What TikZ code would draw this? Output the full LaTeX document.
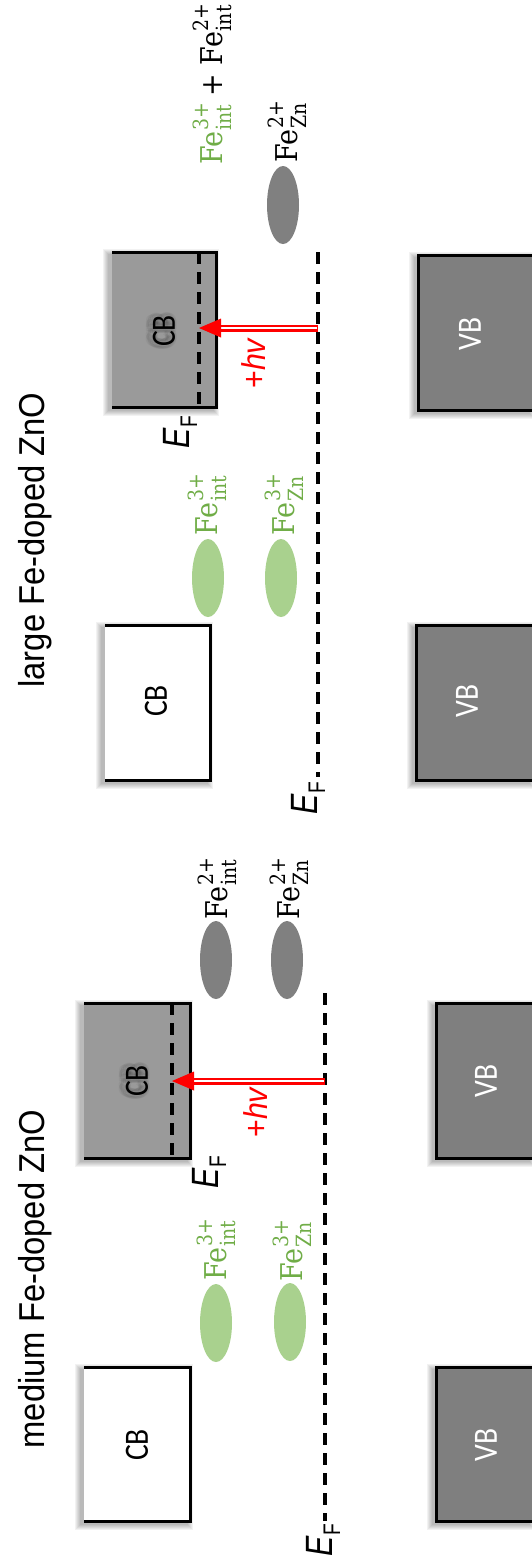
\documentclass[tikz,border=0pt]{standalone}
\usepackage{fontspec}
\setmainfont{Liberation Sans}
\newfontfamily\serf{DejaVu Serif}
\newfontfamily\calib{Carlito}
\usetikzlibrary{shapes.geometric,calc}
\definecolor{cbgrey}{HTML}{9A9A9A}
\definecolor{vbgrey}{HTML}{7F7F7F}
\definecolor{elgrey}{HTML}{808080}
\definecolor{lgreen}{HTML}{A9D18E}
\definecolor{tgreen}{HTML}{70AD47}
\newcommand\fel[2]{Fe\kern0.03em\makebox[0pt][l]{\raisebox{0.47em}{\fontsize{21}{21}\selectfont #1}}\raisebox{-0.3em}{\fontsize{21}{21}\selectfont #2}}
\newcommand\efl{\scalebox{0.8}[1]{\textit{E}\raisebox{-0.21em}{\fontsize{24}{24}\selectfont F}}}
\newcommand\boxshadow[4]{%
  \foreach \k in {0,...,5}{%
    \fill[black,opacity=0.05] (#1-9+\k,#2-3+\k) rectangle (#3+3-\k,#4+9-\k);}}
\newcommand\cbhalo[2]{%
  \foreach \dx/\dy in {-5/0,-4/-3,-4/3,-2/-4,-2/4,0/-4,0/4,2/-3,2/3,3/0,-6/-2,-6/2}{%
    \node[bandlbl,text=black,text opacity=0.045] at (#1+\dx-1,#2+\dy) {\scalebox{0.87}[1]{CB}};}}
\begin{document}
\begin{tikzpicture}[x=1pt,y=-1pt,
  title/.style={rotate=90,inner sep=0pt,font=\fontsize{36}{40}\selectfont},
  bandlbl/.style={rotate=90,inner sep=0pt,font=\calib\fontsize{34}{36}\selectfont},
  ionlbl/.style={rotate=90,inner sep=0pt,font=\serf\fontsize{30}{32}\selectfont},
  eflbl/.style={rotate=90,inner sep=0pt,font=\fontsize{38}{40}\selectfont},
  hvlbl/.style={rotate=90,inner sep=0pt,text=red,font=\fontsize{33}{36}\selectfont},
  greenion/.style={ellipse,fill=lgreen,minimum width=32pt,minimum height=78pt,inner sep=0pt},
  greyion/.style={ellipse,fill=elgrey,minimum width=32pt,minimum height=78pt,inner sep=0pt},
  bandline/.style={line width=3pt,line join=miter},
  efline/.style={line width=3.5pt,dash pattern=on 12pt off 8pt},
  shaft/.style={red,line width=7pt},
  shaftgap/.style={white,line width=2.6pt},
]
\useasboundingbox (0,0) rectangle (532,1556);

%%%%%%%%%%%%%%%% large Fe-doped ZnO (top) %%%%%%%%%%%%%%%%
\node[title] (tL) at (35,540) {\scalebox{0.91}[1]{large Fe-doped ZnO}};

% grey CB (filled up to E_F)
\boxshadow{112}{252}{216}{407}
\fill[cbgrey] (112,252) rectangle (216,407);
\draw[bandline] (112,252) -- (216,252) -- (216,407) -- (112,407);
\draw[efline] (199,252) -- (199,407);
\cbhalo{164}{331}
\node[bandlbl] (cbL2) at (164,331) {\scalebox{0.87}[1]{CB}};
\node[eflbl] (efL2) at (180,432) {\efl};

% white CB
\boxshadow{105}{625}{210}{780}
\fill[white] (105,625) rectangle (210,780);
\draw[bandline] (105,625) -- (210,625) -- (210,780) -- (105,780);
\node[bandlbl] (cbL1) at (156,701) {\scalebox{0.87}[1]{CB}};

% VB boxes
\boxshadow{418}{255}{532}{410}
\fill[vbgrey] (418,255) rectangle (532,410);
\draw[bandline] (532,255) -- (418,255) -- (418,410) -- (532,410);
\node[bandlbl,text=white] (vbL2) at (470,334) {\scalebox{0.87}[1]{VB}};
\boxshadow{416}{625}{532}{780}
\fill[vbgrey] (416,625) rectangle (532,780);
\draw[bandline] (532,625) -- (416,625) -- (416,780) -- (532,780);
\node[bandlbl,text=white] (vbL1) at (467,701) {\scalebox{0.87}[1]{VB}};

% Fermi level
\coordinate (efLtop) at (318,252);
\coordinate (efLbot) at (318,777);
\draw[efline] (efLtop) -- (efLbot);
\node[eflbl] (efL1) at (308,798) {\efl};

% ions
\node[greenion] (gLi) at (208,578) {};
\node[greenion] (gLz) at (281,578) {};
\node[ionlbl,text=tgreen] (lLi) at (207,506) {\scalebox{0.9}[1]{\fel{3+}{int}}};
\node[ionlbl,text=tgreen] (lLz) at (284,506) {\scalebox{0.9}[1]{\fel{3+}{Zn}}};
\node[greyion] (kLz) at (283,205) {};
\node[ionlbl] (mLz) at (287,133) {\scalebox{0.9}[1]{\fel{2+}{Zn}}};
\node[ionlbl] (mLi) at (212,85) {\scalebox{0.9}[1]{\textcolor{tgreen}{\fel{3+}{int}} + \fel{2+}{int}}};

% excitation arrow
\coordinate (aLs) at (318,328);
\coordinate (aLt) at (199,328);
\draw[shaft] (aLs) -- ($(aLt)+(20,0)$);
\draw[shaftgap] ($(aLs)+(-1,0)$) -- ($(aLt)+(22,0)$);
\fill[red] (aLt) -- ++(22,-9.5) -- ++(0,19) -- cycle;
\node[hvlbl] (hvL) at (254,363) {\scalebox{0.92}[1]{+\textit{hv}}};

%%%%%%%%%%%%%%%% medium Fe-doped ZnO (bottom) %%%%%%%%%%%%%%%%
\node[title] (tM) at (35,1279) {\scalebox{0.91}[1]{medium Fe-doped ZnO}};

% grey CB
\boxshadow{84}{1003}{190}{1158}
\fill[cbgrey] (84,1003) rectangle (190,1158);
\draw[bandline] (84,1003) -- (190,1003) -- (190,1158) -- (84,1158);
\draw[efline] (172,1003) -- (172,1158);
\cbhalo{137}{1081}
\node[bandlbl] (cbM2) at (137,1081) {\scalebox{0.87}[1]{CB}};
\node[eflbl] (efM2) at (209,1172) {\efl};

% white CB
\boxshadow{84}{1367}{190}{1521}
\fill[white] (84,1367) rectangle (190,1521);
\draw[bandline] (84,1367) -- (190,1367) -- (190,1521) -- (84,1521);
\node[bandlbl] (cbM1) at (137,1445) {\scalebox{0.87}[1]{CB}};

% VB boxes
\boxshadow{436}{1003}{532}{1158}
\fill[vbgrey] (436,1003) rectangle (532,1158);
\draw[bandline] (532,1003) -- (436,1003) -- (436,1158) -- (532,1158);
\node[bandlbl,text=white] (vbM2) at (486,1081) {\scalebox{0.87}[1]{VB}};
\boxshadow{436}{1367}{532}{1521}
\fill[vbgrey] (436,1367) rectangle (532,1521);
\draw[bandline] (532,1367) -- (436,1367) -- (436,1521) -- (532,1521);
\node[bandlbl,text=white] (vbM1) at (486,1445) {\scalebox{0.87}[1]{VB}};

% Fermi level
\coordinate (efMtop) at (325,993);
\coordinate (efMbot) at (325,1521);
\draw[efline] (efMtop) -- (efMbot);
\node[eflbl] (efM1) at (323,1540) {\efl};

% ions
\node[greyion] (kMi) at (216,960) {};
\node[greyion] (kMz) at (287,960) {};
\node[ionlbl] (mMi) at (217,890) {\scalebox{0.9}[1]{\fel{2+}{int}}};
\node[ionlbl] (mMz) at (289,890) {\scalebox{0.9}[1]{\fel{2+}{Zn}}};
\node[greenion] (gMi) at (216,1323) {};
\node[greenion] (gMz) at (290,1322) {};
\node[ionlbl,text=tgreen] (lMi) at (216,1251) {\scalebox{0.9}[1]{\fel{3+}{int}}};
\node[ionlbl,text=tgreen] (lMz) at (292,1252) {\scalebox{0.9}[1]{\fel{3+}{Zn}}};

% excitation arrow
\coordinate (aMs) at (325,1081);
\coordinate (aMt) at (172,1081);
\draw[shaft] (aMs) -- ($(aMt)+(20,0)$);
\draw[shaftgap] ($(aMs)+(-1,0)$) -- ($(aMt)+(22,0)$);
\fill[red] (aMt) -- ++(22,-9.5) -- ++(0,19) -- cycle;
\node[hvlbl] (hvM) at (256,1112) {\scalebox{0.92}[1]{+\textit{hv}}};
\end{tikzpicture}
\end{document}
